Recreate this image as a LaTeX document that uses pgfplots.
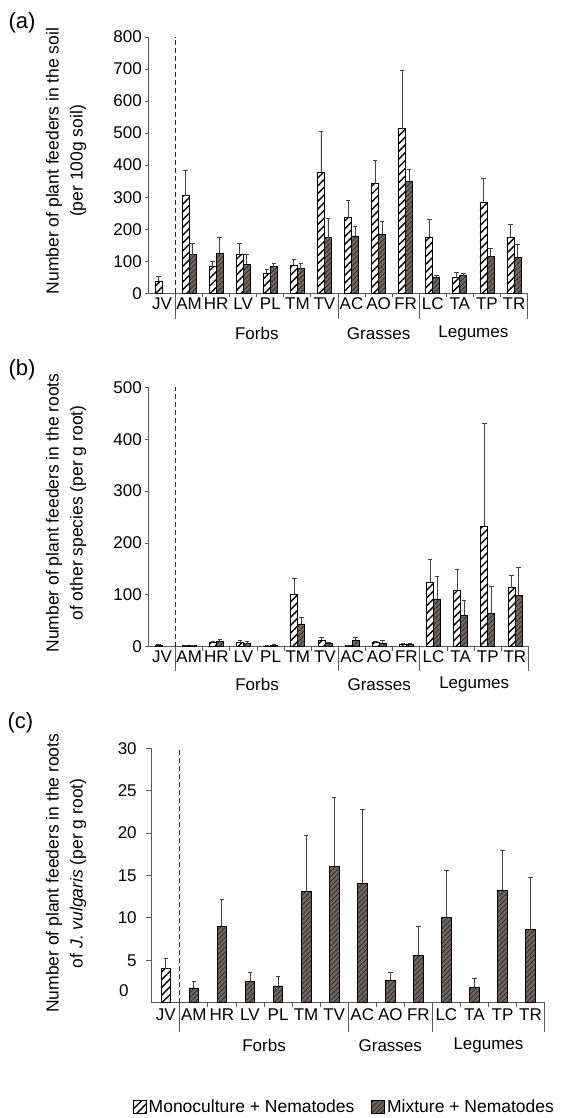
\documentclass[border=0pt]{standalone}
\usepackage{fontspec}
\setmainfont{Liberation Sans}
\usepackage{pgfplots}
\pgfplotsset{compat=1.18}
\usetikzlibrary{patterns.meta}

\definecolor{mixfill}{HTML}{6E6560}
\definecolor{mixline}{HTML}{2B2725}
\definecolor{axgray}{HTML}{5A5A5A}
\definecolor{errgray}{HTML}{404040}
\newcommand{\fs}[1]{\fontsize{#1}{#1}\selectfont}
\tikzset{seps/.style={axgray, line width=0.9pt},
  jvdash/.style={black!85, line width=1.1pt, dash pattern=on 5pt off 3pt}}

\pgfplotsset{
  panel/.style={
    scale only axis, anchor=south west, clip=false,
    xmin=-0.5, xmax=13.5, enlargelimits=false,
    axis x line=bottom, axis y line=left,
    axis line style={-, axgray, line width=0.9pt},
    ybar, bar width=7pt,
    xtick={0,...,13},
    xticklabels={JV,AM,HR,LV,PL,TM,TV,AC,AO,FR,LC,TA,TP,TR},
    minor xtick={1.5,2.5,3.5,4.5,5.5,7.5,8.5,10.5,11.5,12.5},
    tick align=outside,
    major tick length=3.5pt, minor tick length=4pt,
    major x tick style={draw=none},
    minor x tick style={axgray, line width=0.9pt},
    y tick style={axgray, line width=0.9pt},
    tick label style={font=\fs{17}, text=black},
    /pgf/number format/assume math mode=true,
    yticklabel style={inner sep=3pt},
    xticklabel style={yshift=3pt},
  },
  errs/.style={
    error bars/y dir=plus, error bars/y explicit,
    error bars/error bar style={errgray, line width=0.9pt},
    error bars/error mark options={rotate=90, errgray, line width=0.9pt, mark size=2.3pt},
  },
  mono/.style={draw=black, line width=0.7pt, preaction={fill=white},
    pattern={Lines[angle=45,distance=5.5pt,line width=1.4pt]}, pattern color=black, errs},
  mix/.style={draw=black, line width=0.7pt, preaction={fill=mixfill},
    pattern={Lines[angle=45,distance=3.5pt,line width=0.7pt]}, pattern color=mixline, errs},
}

\begin{document}
\begin{tikzpicture}
\useasboundingbox (0pt,0pt) rectangle (566pt,1118pt);

% ---------------- (a) soil
\node[anchor=west, font=\fs{22}] at (5pt,1095pt) {(a)};
\node[rotate=90, align=center, font=\fontsize{17.5}{24}\selectfont] at (66pt,957pt)
  {Number of plant feeders in the soil\\(per 100g soil)};
\begin{axis}[panel, at={(148.5pt,824.7pt)}, width=379pt, height=256.3pt,
  ymin=0, ymax=800, ytick={0,100,...,800}]
\addplot[mono, bar shift=-3.5pt] coordinates {
  (0,38.5) +- (0,15.5) (1,305) +- (0,77) (2,83) +- (0,15) (3,120) +- (0,37)
  (4,63.5) +- (0,11.5) (5,87) +- (0,18) (6,378) +- (0,126) (7,238) +- (0,53)
  (8,342) +- (0,74) (9,514) +- (0,182) (10,176) +- (0,53) (11,49) +- (0,16.5)
  (12,284) +- (0,76) (13,175) +- (0,39)};
\addplot[mix, bar shift=3.5pt] coordinates {
  (1,121) +- (0,36) (2,125) +- (0,49) (3,90.5) +- (0,30.5) (4,85) +- (0,7.6)
  (5,77) +- (0,15.6) (6,174) +- (0,59) (7,179) +- (0,31) (8,184) +- (0,40)
  (9,349) +- (0,39) (10,50) +- (0,6) (11,55) +- (0,7) (12,115.5) +- (0,26)
  (13,112) +- (0,41)};
\draw[jvdash] (axis cs:0.5,0) -- (axis cs:0.5,800);
\pgfplotsinvokeforeach{0.5,6.5,9.5,13.5}{\draw[seps] (axis cs:#1,0) -- ([yshift=-26pt]axis cs:#1,0);}
\node[font=\fs{17}] at ([yshift=-40pt]axis cs:3.5,0) {Forbs};
\node[font=\fs{17}] at ([yshift=-40pt]axis cs:8,0) {Grasses};
\node[font=\fs{17}] at ([yshift=-40pt]axis cs:11.5,0) {Legumes};
\end{axis}

% ---------------- (b) roots of other species
\node[anchor=west, font=\fs{22}] at (5pt,748pt) {(b)};
\node[rotate=90, align=center, font=\fontsize{17.5}{24}\selectfont] at (66pt,605pt)
  {Number of plant feeders in the roots\\of other species (per g root)};
\begin{axis}[panel, at={(148.5pt,471.3pt)}, width=380pt, height=259.3pt,
  ymin=0, ymax=500, ytick={0,100,...,500}]
\addplot[mono, bar shift=-3.5pt] coordinates {
  (0,3) +- (0,1.5) (1,2) +- (0,1) (2,8) +- (0,2.5) (3,8) +- (0,5)
  (4,1) +- (0,1) (5,101) +- (0,31) (6,13) +- (0,4) (7,2) +- (0,1)
  (8,8) +- (0,3) (9,5) +- (0,1.5) (10,124) +- (0,45) (11,108) +- (0,40)
  (12,233) +- (0,197) (13,114) +- (0,24)};
\addplot[mix, bar shift=3.5pt] coordinates {
  (1,2) +- (0,1) (2,10) +- (0,4) (3,6) +- (0,4) (4,3) +- (0,2)
  (5,44) +- (0,13) (6,6) +- (0,2) (7,12) +- (0,6) (8,7) +- (0,5)
  (9,5) +- (0,2) (10,92) +- (0,43) (11,61) +- (0,29) (12,64) +- (0,52)
  (13,99) +- (0,53)};
\draw[jvdash] (axis cs:0.5,0) -- (axis cs:0.5,500);
\pgfplotsinvokeforeach{0.5,6.5,9.5,13.5}{\draw[seps] (axis cs:#1,0) -- ([yshift=-24pt]axis cs:#1,0);}
\node[font=\fs{17}] at ([yshift=-38pt]axis cs:3.5,0) {Forbs};
\node[font=\fs{17}] at ([yshift=-38pt]axis cs:8,0) {Grasses};
\node[font=\fs{17}] at ([yshift=-38pt]axis cs:11.5,0) {Legumes};
\end{axis}

% ---------------- (c) roots of J. vulgaris
\node[anchor=west, font=\fs{22}] at (4pt,395pt) {(c)};
\node[rotate=90, align=center, font=\fontsize{17.5}{24}\selectfont] at (66pt,244.7pt)
  {Number of plant feeders in the roots\\of \textit{J. vulgaris} (per g root)};
\begin{axis}[panel, at={(151.8pt,115.3pt)}, width=392.8pt, height=254.4pt,
  ymin=0, ymax=30, ytick={5,10,...,30}, bar width=9.5pt,
  major tick length=5.4pt,
  yticklabel style={inner sep=1.5pt, xshift=-8pt},
  extra y ticks={1.42}, extra y tick labels={0},
  extra y tick style={major tick length=0pt, yticklabel style={xshift=-13.4pt}},
  legend columns=2, legend cell align=left,
  legend style={at={(0,0)}, anchor=west, xshift=-19pt, yshift=-104.5pt,
    draw=none, fill=none, inner sep=0pt, font=\fs{17.5},
    /tikz/every even column/.append style={column sep=15pt}},
  legend image code/.code={\draw[#1] (0pt,-6.5pt) rectangle (13pt,6.5pt);},
]
\addplot[mono, bar shift=0pt] coordinates {(0,4.0) +- (0,1.2)};
\addplot[mix, bar shift=0pt] coordinates {
  (1,1.75) +- (0,0.75) (2,9.0) +- (0,3.2) (3,2.53) +- (0,1.0) (4,1.98) +- (0,1.1)
  (5,13.1) +- (0,6.6) (6,16.1) +- (0,8.15) (7,14.1) +- (0,8.7) (8,2.65) +- (0,0.9)
  (9,5.6) +- (0,3.35) (10,10.06) +- (0,5.5) (11,1.82) +- (0,1.0) (12,13.27) +- (0,4.7)
  (13,8.65) +- (0,6.15)};
\legend{Monoculture + Nematodes, Mixture + Nematodes}
\draw[jvdash] (axis cs:0.5,0) -- (axis cs:0.5,30);
\pgfplotsinvokeforeach{0.5,6.5,9.5,13.5}{\draw[seps] (axis cs:#1,0) -- ([yshift=-29pt]axis cs:#1,0);}
\node[font=\fs{17}] at ([yshift=-42.5pt]axis cs:3.5,0) {Forbs};
\node[font=\fs{17}] at ([yshift=-42.5pt]axis cs:8,0) {Grasses};
\node[font=\fs{17}] at ([yshift=-42.5pt]axis cs:11.5,0) {Legumes};
\end{axis}
\end{tikzpicture}
\end{document}
